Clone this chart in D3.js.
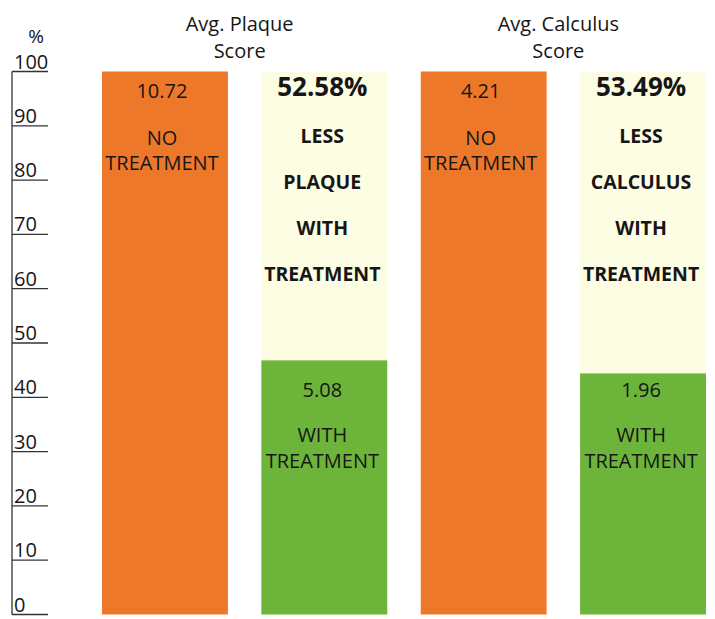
<!DOCTYPE html>
<html>
<head>
<meta charset="utf-8">
<style>
body { margin:0; background:#fff; }
svg text { font-family:'Open Sans', sans-serif; fill:#161616; }
.tick-label { font-size:20px; }
.title { font-size:20px; }
.score { font-size:20px; }
.big { font-size:26px; font-weight:700; }
.cap { font-size:19.5px; font-weight:700; }
</style>
</head>
<body>
<div id="chart"></div>
<script src="https://d3js.org/d3.v7.min.js"></script>
<script>

// data
var groups = ["Avg. Plaque Score", "Avg. Calculus Score"];
var titleLines = [["Avg. Plaque", "Score"], ["Avg. Calculus", "Score"]];
var noTreatScore = ["10.72", "4.21"];
var withTreatScore = ["5.08", "1.96"];
var withTreatHeight = [46.8, 44.4];   // % of no-treatment bar, as drawn
var reduction = ["52.58%", "53.49%"];
var reductionWords = [["LESS", "PLAQUE", "WITH", "TREATMENT"], ["LESS", "CALCULUS", "WITH", "TREATMENT"]];
var yTicks = [0, 10, 20, 30, 40, 50, 60, 70, 80, 90, 100];

var width = 715, height = 619;

var svg = d3.select("#chart").append("svg")
    .attr("width", width)
    .attr("height", height);

var yScale = d3.scaleLinear().domain([0, 100]).range([614.5, 71.5]);

var bars = [];
groups.forEach(function(g, i) {
  bars.push({key: g + "-no", group: i, kind: "no"});
  bars.push({key: g + "-with", group: i, kind: "with"});
});

var xScale = d3.scaleBand()
    .domain(bars.map(function(d) { return d.key; }))
    .range([102, 706])
    .paddingInner(0.21)
    .paddingOuter(0);

// axis
var axis = svg.append("g");
axis.append("line")
    .attr("x1", 12).attr("x2", 12)
    .attr("y1", yScale(100)).attr("y2", yScale(0))
    .attr("stroke", "#333").attr("stroke-width", 1.3);

axis.selectAll(".tick")
  .data(yTicks)
  .enter().append("line")
    .attr("x1", 12).attr("x2", 48)
    .attr("y1", function(d) { return yScale(d); })
    .attr("y2", function(d) { return yScale(d); })
    .attr("stroke", "#333").attr("stroke-width", 1.3);

axis.selectAll(".tick-label")
  .data(yTicks)
  .enter().append("text")
    .attr("class", "tick-label")
    .attr("x", 14)
    .attr("y", function(d) { return yScale(d) - 3; })
    .text(function(d) { return d; });

svg.append("text")
    .attr("class", "tick-label")
    .attr("x", 36)
    .attr("y", 43)
    .attr("text-anchor", "middle")
    .style("font-size", "19px")
    .text("%");

// bars
var colors = {no: "#ED782A", cream: "#FDFDE3", with: "#6CB43A"};

// cream background for the "with" column
svg.selectAll(".cream")
  .data(bars.filter(function(d) { return d.kind === "with"; }))
  .enter().append("rect")
    .attr("x", function(d) { return xScale(d.key); })
    .attr("y", yScale(100))
    .attr("width", xScale.bandwidth())
    .attr("height", yScale(0) - yScale(100))
    .attr("fill", colors.cream);

svg.selectAll(".bar")
  .data(bars)
  .enter().append("rect")
    .attr("x", function(d) { return xScale(d.key); })
    .attr("y", function(d) { return yScale(d.kind === "no" ? 100 : withTreatHeight[d.group]); })
    .attr("width", xScale.bandwidth())
    .attr("height", function(d) { return yScale(0) - yScale(d.kind === "no" ? 100 : withTreatHeight[d.group]); })
    .attr("fill", function(d) { return colors[d.kind]; });

function cx(d) { return xScale(d.key) + xScale.bandwidth() / 2; }

// titles
groups.forEach(function(g, i) {
  var mid = (xScale(g + "-no") + xScale(g + "-with") + xScale.bandwidth()) / 2 - 5;
  titleLines[i].forEach(function(t, j) {
    svg.append("text")
      .attr("class", "title")
      .attr("x", mid)
      .attr("y", 31 + j * 27)
      .attr("text-anchor", "middle")
      .text(t);
  });
});

// labels in orange bars
bars.filter(function(d) { return d.kind === "no"; }).forEach(function(d) {
  var x = cx(d) - 3;
  svg.append("text").attr("class", "score").attr("x", x).attr("y", 98)
    .attr("text-anchor", "middle").text(noTreatScore[d.group]);
  svg.append("text").attr("class", "score").attr("x", x).attr("y", 145)
    .attr("text-anchor", "middle").text("NO");
  svg.append("text").attr("class", "score").attr("x", x).attr("y", 170)
    .attr("text-anchor", "middle").text("TREATMENT");
});

// labels in the cream / green column
bars.filter(function(d) { return d.kind === "with"; }).forEach(function(d) {
  var x = cx(d) - 2;
  svg.append("text").attr("class", "big").attr("x", x).attr("y", 96)
    .attr("text-anchor", "middle").text(reduction[d.group]);
  reductionWords[d.group].forEach(function(w, j) {
    svg.append("text").attr("class", "cap").attr("x", x).attr("y", 143 + j * 46)
      .attr("text-anchor", "middle").text(w);
  });
  svg.append("text").attr("class", "score").attr("x", x).attr("y", yScale(40))
    .attr("text-anchor", "middle").text(withTreatScore[d.group]);
  svg.append("text").attr("class", "score").attr("x", x).attr("y", 442)
    .attr("text-anchor", "middle").text("WITH");
  svg.append("text").attr("class", "score").attr("x", x).attr("y", 468)
    .attr("text-anchor", "middle").text("TREATMENT");
});

</script>
</body>
</html>
